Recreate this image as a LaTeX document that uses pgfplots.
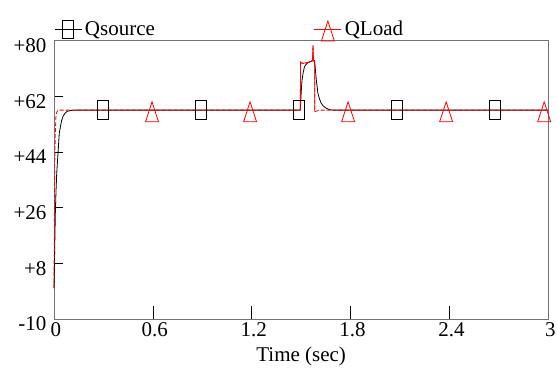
\documentclass[border=0pt]{standalone}
\usepackage{pgfplots}
\pgfplotsset{compat=1.18}
\usepackage{fontspec}
\setmainfont{Liberation Serif}
\newcommand\ff{\fontsize{21}{25}\selectfont}
\pgfdeclareplotmark{tallsq}{%
  \pgfpathrectangle{\pgfpoint{-5.5pt}{-9.3pt}}{\pgfpoint{11pt}{18.6pt}}%
  \pgfusepathqstroke}
\pgfdeclareplotmark{talltri}{%
  \pgfpathmoveto{\pgfpoint{0pt}{8.3pt}}%
  \pgfpathlineto{\pgfpoint{-6.5pt}{-11.7pt}}%
  \pgfpathlineto{\pgfpoint{6.5pt}{-11.7pt}}%
  \pgfpathclose\pgfusepathqstroke}
\begin{document}
\begin{tikzpicture}
\begin{axis}[
  at={(0,0)}, anchor=south west,
  scale only axis, width=494.3pt, height=278.5pt,
  xmin=0, xmax=3, ymin=-10, ymax=80,
  tick label style={font=\ff},
  label style={font=\ff},
  xtick={0,0.6,1.2,1.8,2.4,3}, xticklabels={0,0.6,1.2,1.8,2.4,3},
  ytick={-10,8,26,44,62,80}, yticklabels={-10,+8,+26,+44,+62,+80},
  tick align=inside, xtick pos=lower, ytick pos=left,
  xtick style={black, line width=0.7pt, /pgfplots/major tick length=13pt},
  ytick style={black, line width=0.7pt, /pgfplots/major tick length=9pt},
  axis line style={black!55, line width=0.8pt},
  xticklabel style={xshift=2pt},
  yticklabel style={xshift=-4pt, yshift=-5pt},
  xlabel={Time (sec)},
  xlabel style={yshift=-3pt},
  legend columns=2,
  legend style={font=\ff, draw=none, fill=none, at={(0,1)}, anchor=west, yshift=10pt,
    inner sep=0pt, nodes={inner sep=1pt},
    /tikz/every odd column/.append style={column sep=2pt},
    /tikz/every even column/.append style={column sep=158pt}},
  legend image code/.code={\draw[mark repeat=2,mark phase=2,#1] plot coordinates {(0pt,0pt) (13.5pt,0pt) (27pt,0pt)};},
  clip=false,
]
\addlegendimage{black, line width=0.8pt, mark=tallsq}
\addlegendentry{Qsource}
\addlegendimage{red, line width=0.8pt, mark=talltri}
\addlegendentry{QLoad}

% Qsource
\addplot[black, line width=0.8pt, mark=none, forget plot] coordinates {
(0,0) (0.002,5) (0.004,12) (0.008,24) (0.012,31) (0.016,36.5) (0.02,40)
(0.026,45) (0.032,50) (0.04,52.5) (0.047,54.3) (0.055,55.5) (0.067,56.5)
(0.08,57.1) (0.1,57.4) (0.13,57.5) (1.495,57.5) (1.5,63) (1.505,67)
(1.512,69.5) (1.52,71.5) (1.53,72.3) (1.54,72.8) (1.555,73.2) (1.57,73.5)
(1.58,73.5) (1.585,71.5) (1.592,67.2) (1.602,62.9) (1.612,61) (1.622,59.7)
(1.635,58.8) (1.653,58.1) (1.67,57.7) (1.69,57.5) (3,57.5)
};
% QLoad
\addplot[red, line width=0.8pt, mark=none, dash pattern=on 4pt off 2pt, forget plot] coordinates {
(0,0) (0.002,20) (0.004,38) (0.008,50) (0.012,55.9) (0.018,57) (0.026,57.5)
(1.495,57.5) (1.496,73) (1.51,72.6) (1.53,72.8) (1.55,73) (1.565,73.3)
(1.569,73.6) (1.572,78.5) (1.575,73.5) (1.582,73.2) (1.583,57) (1.6,57.3)
(1.62,57.5) (3,57.5)
};
\addplot[red, line width=0.8pt, forget plot] coordinates {
(1.495,57.5) (1.496,73) (1.51,72.6) (1.53,72.8) (1.55,73) (1.565,73.3)
(1.569,73.6) (1.572,78.5) (1.575,73.5) (1.582,73.2) (1.583,57)
};
\addplot[only marks, mark=tallsq, black, line width=0.8pt, forget plot] coordinates {
(0.297,57.5) (0.892,57.5) (1.487,57.5) (2.082,57.5) (2.677,57.5)
};
\addplot[only marks, mark=talltri, red, line width=0.8pt, forget plot] coordinates {
(0.595,57.5) (1.19,57.5) (1.785,57.5) (2.38,57.5) (2.975,57.5)
};
\end{axis}
\pgfresetboundingbox
\path[use as bounding box] (-54pt,-50pt) rectangle (503pt,319pt);
\end{tikzpicture}
\end{document}
